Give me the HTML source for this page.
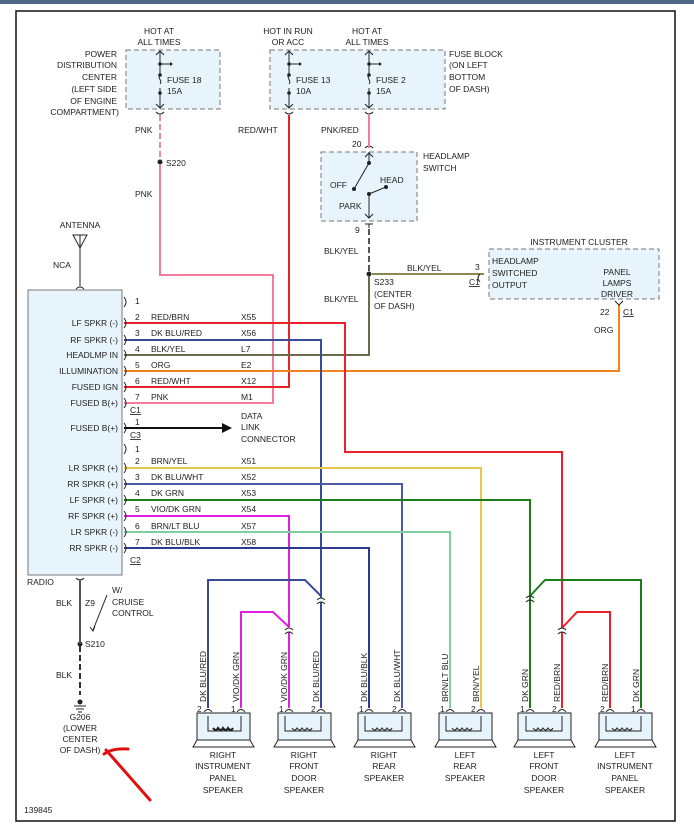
<!DOCTYPE html>
<html><head><meta charset="utf-8"><style>
html,body{margin:0;padding:0;background:#fff;}
svg{display:block;}
text{font-family:"Liberation Sans",sans-serif;font-size:8.5px;fill:#222;}
</style></head><body>
<svg width="694" height="834" viewBox="0 0 694 834" xmlns="http://www.w3.org/2000/svg">
<rect x="0" y="0" width="694" height="4" fill="#4d6886"/>
<rect x="16" y="11" width="659" height="810" fill="#fff" stroke="#111" stroke-width="1.5"/>

<!-- fuse boxes -->
<g fill="#e8f4fb" stroke="#777" stroke-dasharray="5,3">
<rect x="126" y="50" width="94" height="59"/>
<rect x="270" y="50" width="175" height="59"/>
<rect x="321" y="152" width="96" height="69"/>
<rect x="489" y="249" width="170" height="50"/>
</g>
<rect x="28" y="290" width="94" height="285" fill="#e8f4fb" stroke="#777"/>

<!-- fuses -->
<g stroke="#222" stroke-width="1" fill="none">
<path d="M160 52V75 M160 88V107 M160 75c-3 3 3 6 0 9 M160 64h10"/>
<path d="M289 52V75 M289 88V107 M289 75c-3 3 3 6 0 9 M289 64h10"/>
<path d="M369 52V75 M369 88V107 M369 75c-3 3 3 6 0 9 M369 64h10"/>
<path d="M156 55l4-4 4 4 M156 104l4 4 4-4 M285 55l4-4 4 4 M285 104l4 4 4-4 M365 55l4-4 4 4 M365 104l4 4 4-4"/>
<path d="M156 112q4 4 8 0 M285 112q4 4 8 0 M365 112q4 4 8 0"/>
<!-- headlamp switch -->
<path d="M365 148q4-4 8 0 M369 152V163 M365 157l4-4 4 4 M369 163L354 189 M369 194l17-7 M369 194V218 M365 214l4 4 4-4 M365 224h8 M369 224v4"/>
</g>
<g fill="#222">
<circle cx="160" cy="64" r="1.8"/><circle cx="160" cy="75" r="1.8"/><circle cx="160" cy="93" r="1.8"/>
<circle cx="289" cy="64" r="1.8"/><circle cx="289" cy="75" r="1.8"/><circle cx="289" cy="93" r="1.8"/>
<circle cx="369" cy="64" r="1.8"/><circle cx="369" cy="75" r="1.8"/><circle cx="369" cy="93" r="1.8"/>
<path d="M170 62l3 2-3 2z M299 62l3 2-3 2z M379 62l3 2-3 2z"/>
<circle cx="369" cy="163" r="2"/><circle cx="354" cy="189" r="2"/><circle cx="369" cy="194" r="2"/><circle cx="386" cy="187" r="2"/>
<circle cx="160" cy="162" r="2.5"/><circle cx="369" cy="274" r="2.5"/><circle cx="80" cy="644" r="2.5"/>
</g>

<!-- wires -->
<g fill="none" stroke-width="2">
<path d="M160 115V160" stroke="#f48aa0" stroke-dasharray="6,3"/>
<path d="M160 165V275H273V403H124" stroke="#f47c9a"/>
<path d="M289 115V387H124" stroke="#e8212a"/>
<path d="M369 115V148" stroke="#f47c9a"/>
<path d="M369 229V272" stroke="#555" stroke-dasharray="6,3"/>
<path d="M369 276V355H124" stroke="#6a6a50"/>
<path d="M372 274H484" stroke="#8a8a50"/>
<path d="M619 305V371H124" stroke="#f58220"/>
<path d="M124 323H345V452H562V628" stroke="#e8212a"/>
<path d="M124 340H321V598" stroke="#3a4a9a"/>
<path d="M124 468H481V708" stroke="#e5c84a"/>
<path d="M124 484H402V708" stroke="#4a5aa8"/>
<path d="M124 500H530V708" stroke="#1a7f1a"/>
<path d="M124 516H289V627" stroke="#e020e0"/>
<path d="M124 532H450V708" stroke="#7ecfa0"/>
<path d="M124 548H369V708" stroke="#2b3a8f"/>
<path d="M321 602V708" stroke="#3a4a9a"/>
<path d="M289 632V708" stroke="#e020e0"/>
<path d="M562 632V708" stroke="#e8212a"/>
<path d="M208 708V580H305L321 596" stroke="#3a4a9a"/>
<path d="M241 708V612H273L289 627" stroke="#e020e0"/>
<path d="M530 596L545 580H641V708" stroke="#1a7f1a"/>
<path d="M562 628L577 612H610V708" stroke="#e8212a"/>
</g>
<g fill="none" stroke="#222" stroke-width="1">
<path d="M317 600q4-4 8 0 M317 604q4-4 8 0 M285 630q4-4 8 0 M285 634q4-4 8 0 M526 598q4-4 8 0 M526 602q4-4 8 0 M558 630q4-4 8 0 M558 634q4-4 8 0"/>
<path d="M480 274q-4 4 0 8"/>
<path d="M615 301l4 4 4-4"/>
<!-- radio pin arcs -->
<path d="M124 297q4 5 0 10 M124 318q4 5 0 10 M124 335q4 5 0 10 M124 350q4 5 0 10 M124 366q4 5 0 10 M124 382q4 5 0 10 M124 398q4 5 0 10 M124 423q4 5 0 10 M124 444q4 5 0 10 M124 463q4 5 0 10 M124 479q4 5 0 10 M124 495q4 5 0 10 M124 511q4 5 0 10 M124 527q4 5 0 10 M124 543q4 5 0 10"/>
<!-- antenna -->
<path d="M73 235h14l-7 13z M80 235V286 M76 289q4-4 8 0"/>
<!-- ground -->
<path d="M76 578q4 4 8 0" />
<path d="M80 580V644" stroke="#555" stroke-width="2"/>
<path d="M80 646V695" stroke="#333" stroke-width="2" stroke-dasharray="6,3"/>
<path d="M74 706h12 M76 709h8 M78 712h4"/>
<path d="M107 595L93 630 M90 627l3 4 2-5"/>
</g>
<circle cx="80" cy="702" r="2.5" fill="#222"/>
<path d="M124 428H222" stroke="#111" stroke-width="2"/>
<path d="M222 423l10 5-10 5z" fill="#111"/>

<!-- speakers -->
<g stroke="#222" stroke-width="1">
<g id="spk">
<path d="M197 713h53v27h-53z" fill="#e8f4fb"/>
<path d="M197 740l-4 7h61l-4-7" fill="none"/>
</g>
<use href="#spk" x="81"/><use href="#spk" x="161"/><use href="#spk" x="242"/><use href="#spk" x="321"/><use href="#spk" x="402"/>
</g>
<g fill="none" stroke="#222" stroke-width="1">
<path d="M208 716v15h33v-15 M285 716v15h36v-15 M365 716v15h37v-15 M446 716v15h35v-15 M526 716v15h36v-15 M606 716v15h35v-15"/>
<path d="M213 728q3 4 5 0q3 4 5 0q3 4 5 0q3 4 5 0" stroke-width="2"/>
<path d="M292 728q3 4 5 0q3 4 5 0q3 4 5 0q3 4 5 0 M372 728q3 4 5 0q3 4 5 0q3 4 5 0q3 4 5 0 M452 728q3 4 5 0q3 4 5 0q3 4 5 0q3 4 5 0 M533 728q3 4 5 0q3 4 5 0q3 4 5 0q3 4 5 0 M612 728q3 4 5 0q3 4 5 0q3 4 5 0q3 4 5 0"/>
<path d="M204 712q4-5 8 0 M237 712q4-5 8 0 M285 712q4-5 8 0 M317 712q4-5 8 0 M365 712q4-5 8 0 M398 712q4-5 8 0 M446 712q4-5 8 0 M477 712q4-5 8 0 M526 712q4-5 8 0 M558 712q4-5 8 0 M606 712q4-5 8 0 M637 712q4-5 8 0"/>
</g>

<!-- red arrow -->
<path d="M150 800L106 750 M104 754q8-6 24-5" fill="none" stroke="#e01010" stroke-width="3" stroke-linecap="round"/>

<!-- text -->
<g text-anchor="middle">
<text x="159" y="34">HOT AT</text><text x="159" y="45">ALL TIMES</text>
<text x="288" y="34">HOT IN RUN</text><text x="288" y="45">OR ACC</text>
<text x="367" y="34">HOT AT</text><text x="367" y="45">ALL TIMES</text>
<text x="80" y="228">ANTENNA</text>
<text x="579" y="245">INSTRUMENT CLUSTER</text>
<text x="617" y="275">PANEL</text><text x="617" y="286">LAMPS</text><text x="617" y="297">DRIVER</text>
<text x="80" y="720">G206</text><text x="80" y="731">(LOWER</text><text x="80" y="742">CENTER</text><text x="80" y="753">OF DASH)</text>
<text x="223" y="758">RIGHT</text><text x="223" y="769">INSTRUMENT</text><text x="223" y="781">PANEL</text><text x="223" y="793">SPEAKER</text>
<text x="304" y="758">RIGHT</text><text x="304" y="769">FRONT</text><text x="304" y="781">DOOR</text><text x="304" y="793">SPEAKER</text>
<text x="384" y="758">RIGHT</text><text x="384" y="769">REAR</text><text x="384" y="781">SPEAKER</text>
<text x="465" y="758">LEFT</text><text x="465" y="769">REAR</text><text x="465" y="781">SPEAKER</text>
<text x="544" y="758">LEFT</text><text x="544" y="769">FRONT</text><text x="544" y="781">DOOR</text><text x="544" y="793">SPEAKER</text>
<text x="625" y="758">LEFT</text><text x="625" y="769">INSTRUMENT</text><text x="625" y="781">PANEL</text><text x="625" y="793">SPEAKER</text>
</g>
<g text-anchor="end">
<text x="117" y="57">POWER</text><text x="117" y="68">DISTRIBUTION</text><text x="117" y="80">CENTER</text><text x="117" y="92">(LEFT SIDE</text><text x="117" y="104">OF ENGINE</text><text x="119" y="115">COMPARTMENT)</text>
<text x="118" y="326">LF SPKR (-)</text><text x="118" y="343">RF SPKR (-)</text><text x="118" y="358">HEADLMP IN</text><text x="118" y="374">ILLUMINATION</text><text x="118" y="390">FUSED IGN</text><text x="118" y="406">FUSED B(+)</text><text x="118" y="431">FUSED B(+)</text>
<text x="118" y="471">LR SPKR (+)</text><text x="118" y="487">RR SPKR (+)</text><text x="118" y="503">LF SPKR (+)</text><text x="118" y="519">RF SPKR (+)</text><text x="118" y="535">LR SPKR (-)</text><text x="118" y="551">RR SPKR (-)</text>
</g>
<text x="167" y="83">FUSE 18</text><text x="167" y="94">15A</text>
<text x="296" y="83">FUSE 13</text><text x="296" y="94">10A</text>
<text x="376" y="83">FUSE 2</text><text x="376" y="94">15A</text>
<text x="449" y="57">FUSE BLOCK</text><text x="449" y="68">(ON LEFT</text><text x="449" y="80">BOTTOM</text><text x="449" y="92">OF DASH)</text>
<text x="135" y="133">PNK</text><text x="238" y="133">RED/WHT</text><text x="321" y="133">PNK/RED</text>
<text x="352" y="147">20</text>
<text x="423" y="159">HEADLAMP</text><text x="423" y="171">SWITCH</text>
<text x="330" y="188">OFF</text><text x="380" y="183">HEAD</text><text x="339" y="209">PARK</text>
<text x="166" y="166">S220</text><text x="135" y="197">PNK</text>
<text x="355" y="233">9</text>
<text x="324" y="254">BLK/YEL</text><text x="324" y="302">BLK/YEL</text>
<text x="407" y="271">BLK/YEL</text>
<text x="475" y="270">3</text><text x="469" y="285" text-decoration="underline">C1</text>
<text x="492" y="264">HEADLAMP</text><text x="492" y="276">SWITCHED</text><text x="492" y="288">OUTPUT</text>
<text x="374" y="285">S233</text><text x="374" y="297">(CENTER</text><text x="374" y="309">OF DASH)</text>
<text x="600" y="315">22</text><text x="623" y="315" text-decoration="underline">C1</text>
<text x="594" y="333">ORG</text>
<text x="53" y="268">NCA</text>
<text x="135" y="304">1</text>
<text x="135" y="320">2</text><text x="151" y="320">RED/BRN</text><text x="241" y="320">X55</text>
<text x="135" y="336">3</text><text x="151" y="336">DK BLU/RED</text><text x="241" y="336">X56</text>
<text x="135" y="352">4</text><text x="151" y="352">BLK/YEL</text><text x="241" y="352">L7</text>
<text x="135" y="368">5</text><text x="151" y="368">ORG</text><text x="241" y="368">E2</text>
<text x="135" y="384">6</text><text x="151" y="384">RED/WHT</text><text x="241" y="384">X12</text>
<text x="135" y="400">7</text><text x="151" y="400">PNK</text><text x="241" y="400">M1</text>
<text x="130" y="413" text-decoration="underline">C1</text>
<text x="135" y="425">1</text>
<text x="130" y="438" text-decoration="underline">C3</text>
<text x="241" y="419">DATA</text><text x="241" y="430">LINK</text><text x="241" y="442">CONNECTOR</text>
<text x="135" y="452">1</text>
<text x="135" y="464">2</text><text x="151" y="464">BRN/YEL</text><text x="241" y="464">X51</text>
<text x="135" y="480">3</text><text x="151" y="480">DK BLU/WHT</text><text x="241" y="480">X52</text>
<text x="135" y="496">4</text><text x="151" y="496">DK GRN</text><text x="241" y="496">X53</text>
<text x="135" y="512">5</text><text x="151" y="512">VIO/DK GRN</text><text x="241" y="512">X54</text>
<text x="135" y="529">6</text><text x="151" y="529">BRN/LT BLU</text><text x="241" y="529">X57</text>
<text x="135" y="545">7</text><text x="151" y="545">DK BLU/BLK</text><text x="241" y="545">X58</text>
<text x="130" y="563" text-decoration="underline">C2</text>
<text x="27" y="585">RADIO</text>
<text x="56" y="606">BLK</text><text x="85" y="606">Z9</text>
<text x="112" y="593">W/</text><text x="112" y="605">CRUISE</text><text x="112" y="616">CONTROL</text>
<text x="85" y="647">S210</text>
<text x="56" y="678">BLK</text>
<text x="24" y="813">139845</text>
<g font-size="8.5">
<text transform="translate(206,702) rotate(-90)">DK BLU/RED</text>
<text transform="translate(239,702) rotate(-90)">VIO/DK GRN</text>
<text transform="translate(287,702) rotate(-90)">VIO/DK GRN</text>
<text transform="translate(319,702) rotate(-90)">DK BLU/RED</text>
<text transform="translate(367,702) rotate(-90)">DK BLU/BLK</text>
<text transform="translate(400,702) rotate(-90)">DK BLU/WHT</text>
<text transform="translate(448,702) rotate(-90)">BRN/LT BLU</text>
<text transform="translate(479,702) rotate(-90)">BRN/YEL</text>
<text transform="translate(528,702) rotate(-90)">DK GRN</text>
<text transform="translate(560,702) rotate(-90)">RED/BRN</text>
<text transform="translate(608,702) rotate(-90)">RED/BRN</text>
<text transform="translate(639,702) rotate(-90)">DK GRN</text>
</g>
<text x="197" y="712">2</text><text x="231" y="712">1</text>
<text x="279" y="712">1</text><text x="311" y="712">2</text>
<text x="359" y="712">1</text><text x="392" y="712">2</text>
<text x="440" y="712">1</text><text x="471" y="712">2</text>
<text x="520" y="712">1</text><text x="552" y="712">2</text>
<text x="600" y="712">2</text><text x="631" y="712">1</text>
</svg>
</body></html>
